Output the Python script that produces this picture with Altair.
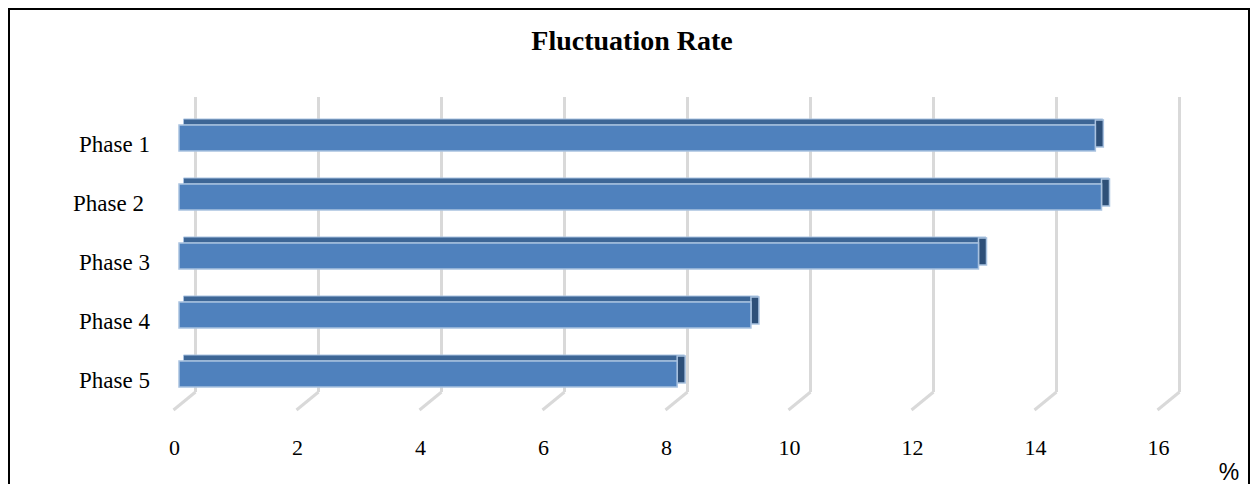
import altair as alt
import pandas as pd

# ---- data ----
phases = ["Phase 1", "Phase 2 ", "Phase 3", "Phase 4", "Phase 5"]
rates = [14.9, 15.0, 13.0, 9.3, 8.1]
ticks = [0, 2, 4, 6, 8, 10, 12, 14, 16]
tick_labels = ["0", "2", "4", "6", "8", "10", "12", "14", "16"]
title_text = "Fluctuation Rate"
unit_text = "%"

bars = pd.DataFrame({
    "phase": phases,
    "rate": rates,
    "idx": list(range(len(phases))),
    "zero": [0] * len(phases),
})
grid = pd.DataFrame({"tick": ticks, "label": tick_labels})
one = pd.DataFrame({"t": [title_text], "u": [unit_text]})

W, H = 1242, 476
X = alt.Scale(domain=[0, 16], range=[166.5, 1150.5])
Y = alt.Scale(domain=[0, 4], range=[130, 366])

SERIF = "Liberation Serif"
GRID = "#d9d9d9"
FRONT = "#4f81bd"
TOP = "#3d6696"
END = "#2e5079"
EDGE = "#a9c2e0"

base_b = alt.Chart(bars)
base_g = alt.Chart(grid)
base_o = alt.Chart(one)

# gridlines on the back wall
grid_v = base_g.mark_rule(color=GRID, strokeWidth=3, xOffset=21).encode(
    x=alt.X("tick:Q", scale=X, axis=None),
    y=alt.value(89),
    y2=alt.value(384),
)
grid_d = base_g.mark_rule(color=GRID, strokeWidth=3, xOffset=21, x2Offset=-1).encode(
    x=alt.X("tick:Q", scale=X, axis=None),
    x2="tick:Q",
    y=alt.value(384),
    y2=alt.value(402),
)

# 3-D bar: top face, end face, front face
top_face = base_b.mark_rect(
    color=TOP, stroke=EDGE, strokeWidth=1,
    xOffset=9, x2Offset=12, yOffset=-19, y2Offset=-13,
).encode(
    x=alt.X("zero:Q", scale=X, axis=None),
    x2="rate:Q",
    y=alt.Y("idx:Q", scale=Y, axis=None),
    y2="idx:Q",
)
end_face = base_b.mark_rect(
    color=END, stroke=EDGE, strokeWidth=1.5,
    xOffset=4.5, x2Offset=12.5, yOffset=-18, y2Offset=9,
).encode(
    x=alt.X("rate:Q", scale=X, axis=None),
    x2="rate:Q",
    y=alt.Y("idx:Q", scale=Y, axis=None),
    y2="idx:Q",
)
front_face = base_b.mark_rect(
    color=FRONT, stroke=EDGE, strokeWidth=1.5,
    xOffset=4.5, x2Offset=4.5, yOffset=-13, y2Offset=13,
).encode(
    x=alt.X("zero:Q", scale=X, axis=None),
    x2="rate:Q",
    y=alt.Y("idx:Q", scale=Y, axis=None),
    y2="idx:Q",
    tooltip=["phase:N", "rate:Q"],
)

# category labels (the second one carries a trailing space in the source)
cat_style = dict(font=SERIF, fontSize=23, align="right", baseline="alphabetic", dy=14, color="black")
cat_enc = dict(
    x=alt.value(142),
    y=alt.Y("idx:Q", scale=Y, axis=None),
    text="phase:N",
)
cat_labels = base_b.mark_text(**cat_style).encode(**cat_enc).transform_filter("datum.idx != 1")
cat_label2 = base_b.mark_text(dx=-6, **cat_style).encode(**cat_enc).transform_filter("datum.idx == 1")

# value-axis labels
x_labels = base_g.mark_text(
    font=SERIF, fontSize=22, align="center", baseline="middle", color="black"
).encode(
    x=alt.X("tick:Q", scale=X, axis=None),
    y=alt.value(440),
    text="label:N",
)

title = base_o.mark_text(
    font=SERIF, fontSize=28, fontWeight="bold", align="center", baseline="alphabetic", color="black"
).encode(x=alt.value(624), y=alt.value(42), text="t:N")

unit = base_o.mark_text(
    font="Liberation Sans", fontSize=23, align="center", baseline="alphabetic", color="black"
).encode(x=alt.value(1221), y=alt.value(472), text="u:N")

# outer frame (left, top, right)
frame_l = base_o.mark_rule(color="black", strokeWidth=2).encode(
    x=alt.value(1), y=alt.value(0), y2=alt.value(H))
frame_t = base_o.mark_rule(color="black", strokeWidth=2).encode(
    x=alt.value(0), x2=alt.value(W), y=alt.value(1))
frame_r = base_o.mark_rule(color="black", strokeWidth=2).encode(
    x=alt.value(W - 1), y=alt.value(0), y2=alt.value(H))

chart = alt.layer(
    grid_v, grid_d, top_face, end_face, front_face,
    cat_labels, cat_label2, x_labels, title, unit, frame_l, frame_t, frame_r,
).properties(
    width=W, height=H, padding=0,
    autosize=alt.AutoSizeParams(type="none"),
    background="white",
).configure_view(strokeWidth=0)

chart.save("out.html", embed_options={"renderer": "svg", "actions": False})
